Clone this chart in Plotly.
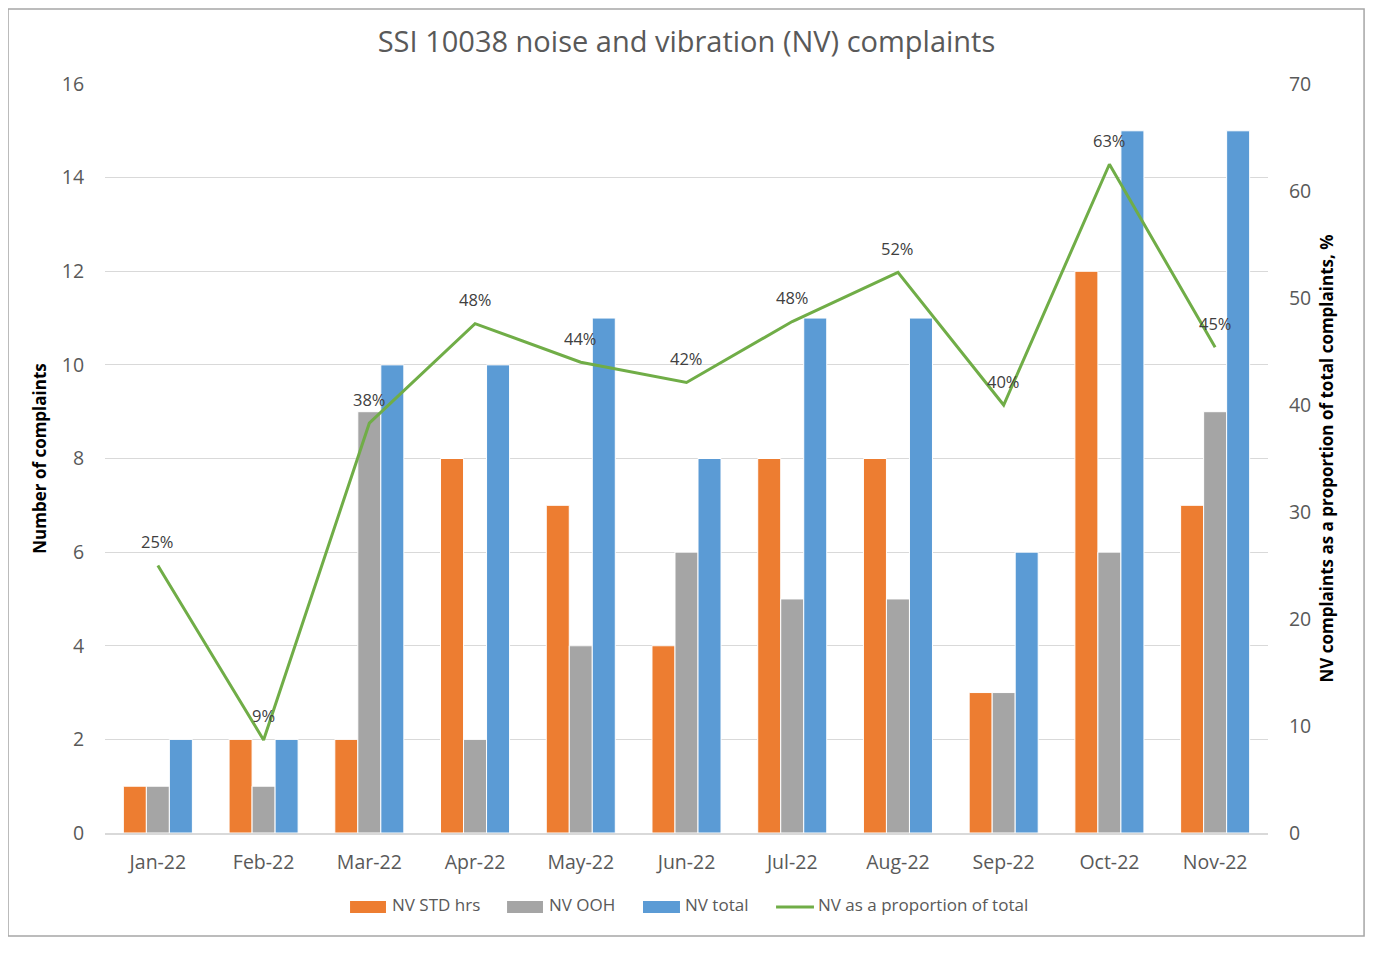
import plotly.graph_objects as go

months = ["Jan-22", "Feb-22", "Mar-22", "Apr-22", "May-22", "Jun-22",
          "Jul-22", "Aug-22", "Sep-22", "Oct-22", "Nov-22"]
nv_std = [1, 2, 2, 8, 7, 4, 8, 8, 3, 12, 7]
nv_ooh = [1, 1, 9, 2, 4, 6, 5, 5, 3, 6, 9]
nv_total = [2, 2, 10, 10, 11, 8, 11, 11, 6, 15, 15]
nv_prop = [25.0, 8.7, 38.3, 47.6, 44.0, 42.1, 47.8, 52.4, 40.0, 62.5, 45.4]
prop_labels = [f"{int(v + 0.5)}%" for v in nv_prop]

series_names = ["NV STD hrs", "NV OOH", "NV total", "NV as a proportion of total"]
series_colors = ["#ED7D31", "#A5A5A5", "#5B9BD5", "#70AD47"]

FONT = "Open Sans"
GREY = "#595959"

fig = go.Figure()
for name, vals, col in zip(series_names[:3], [nv_std, nv_ooh, nv_total], series_colors[:3]):
    fig.add_trace(go.Bar(x=months, y=vals, name=name,
                         marker=dict(color=col, line=dict(color="white", width=1))))
fig.add_trace(go.Scatter(x=months, y=nv_prop, name=series_names[3], yaxis="y2",
                         mode="lines", line=dict(color=series_colors[3], width=3)))

# data labels for the line
for m, v, t in zip(months, nv_prop, prop_labels):
    fig.add_annotation(x=m, y=v, xref="x", yref="y2", text=t, showarrow=False,
                       yshift=24, xanchor="center", yanchor="middle",
                       font=dict(family=FONT, size=16.5, color="#404040"))

# custom legend (wide swatches like the original)
leg_y = -0.0948
swatches = [(0.2107, 0.2416, 0.2451), (0.3457, 0.3766, 0.3801), (0.4626, 0.4944, 0.4970)]
for (x0, x1, xt), name, col in zip(swatches, series_names[:3], series_colors[:3]):
    fig.add_shape(type="rect", xref="paper", yref="paper", x0=x0, x1=x1, y0=-0.1068, y1=-0.0908,
                  fillcolor=col, line=dict(width=0))
    fig.add_annotation(x=xt, y=leg_y, xref="paper", yref="paper", text=name, showarrow=False,
                       xanchor="left", yanchor="middle", font=dict(family=FONT, size=17, color=GREY))
fig.add_shape(type="line", xref="paper", yref="paper", x0=0.5770, x1=0.6096, y0=-0.0988, y1=-0.0988,
              line=dict(color=series_colors[3], width=3))
fig.add_annotation(x=0.6114, y=leg_y, xref="paper", yref="paper", text=series_names[3], showarrow=False,
                   xanchor="left", yanchor="middle", font=dict(family=FONT, size=17, color=GREY))

fig.update_layout(
    width=1357, height=938,
    paper_bgcolor="white", plot_bgcolor="white",
    margin=dict(l=97, r=97, t=76, b=113),
    font=dict(family=FONT, color=GREY),
    title=dict(text="SSI 10038 noise and vibration (NV) complaints", x=0.5, xanchor="center",
               y=0.9638, yanchor="middle", font=dict(family=FONT, size=29, color=GREY)),
    barmode="group", bargap=0.347, bargroupgap=0,
    showlegend=False,
    xaxis=dict(tickfont=dict(size=19.5, color=GREY), showline=True, linecolor="#D9D9D9", linewidth=1.5,
               ticks="outside", ticklen=11, tickcolor="white", showgrid=False, automargin=False),
    yaxis=dict(range=[0, 16], dtick=2, tickfont=dict(size=19.5, color=GREY), gridcolor="#D9D9D9",
               showline=False, zeroline=False, ticks="outside", ticklen=16, tickcolor="white",
               automargin=False,
               title=dict(text="<b>Number of complaints</b>", font=dict(size=17, color="black"), standoff=10)),
    yaxis2=dict(range=[0, 70], dtick=10, overlaying="y", side="right", showgrid=False, zeroline=False,
                tickfont=dict(size=19.5, color=GREY), ticks="outside", ticklen=16, tickcolor="white",
                automargin=False,
                title=dict(text="<b>NV complaints as a proportion of total complaints, %</b>",
                           font=dict(size=17, color="black"), standoff=10)),
)
fig.add_shape(type="rect", xref="paper", yref="paper", x0=-0.0834, x1=1.0826, y0=-0.1375, y1=1.1001,
              line=dict(color="#A6A6A6", width=1.5), fillcolor="rgba(0,0,0,0)", layer="below")

fig.write_html("out.html")
